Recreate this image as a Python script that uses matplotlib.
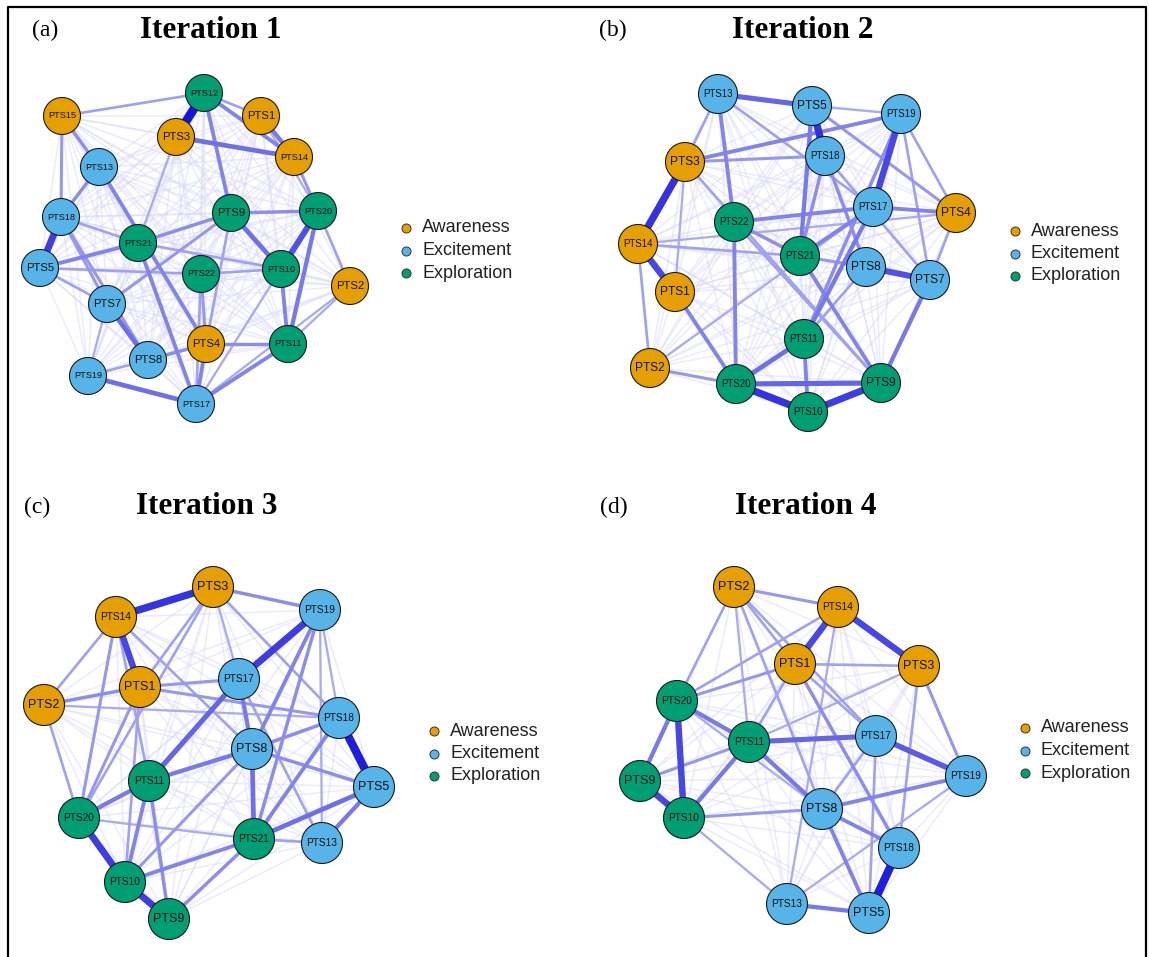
import itertools
import matplotlib
matplotlib.use("Agg")
import matplotlib.pyplot as plt
from matplotlib.patches import Circle
from matplotlib.lines import Line2D

W, H = 1149, 957

# node groups
awareness = ["PTS1", "PTS2", "PTS3", "PTS4", "PTS14", "PTS15"]
excitement = ["PTS5", "PTS7", "PTS8", "PTS13", "PTS17", "PTS18", "PTS19"]
exploration = ["PTS9", "PTS10", "PTS11", "PTS12", "PTS20", "PTS21", "PTS22"]
group_names = ["Awareness", "Excitement", "Exploration"]
group_colors = ["#E69F00", "#56B4E9", "#009E73"]

# layouts (panel-local coordinates, y downwards)
iter1_nodes = ["PTS12", "PTS15", "PTS1", "PTS3", "PTS14", "PTS13", "PTS18", "PTS9", "PTS20", "PTS21",
               "PTS22", "PTS10", "PTS5", "PTS2", "PTS7", "PTS4", "PTS11", "PTS8", "PTS19", "PTS17"]
iter1_x = [204, 62, 261, 176, 294, 99, 61, 231, 318, 138, 201, 281, 40, 350, 107, 206, 288, 148, 88, 196]
iter1_y = [93, 116, 116, 137, 157, 167, 217, 213, 211, 243, 274, 269, 268, 286, 304, 344, 344, 360, 376, 404]

iter2_nodes = ["PTS13", "PTS5", "PTS19", "PTS18", "PTS3", "PTS17", "PTS4", "PTS22", "PTS14", "PTS21",
               "PTS8", "PTS7", "PTS1", "PTS11", "PTS2", "PTS20", "PTS9", "PTS10"]
iter2_x = [158, 252, 341, 265, 125, 313, 396, 174, 78, 240, 306, 370, 115, 244, 90, 176, 321, 248]
iter2_y = [94, 106, 114, 156, 162, 207, 213, 222, 244, 256, 267, 280, 292, 339, 368, 384, 383, 412]

iter3_nodes = ["PTS3", "PTS14", "PTS19", "PTS1", "PTS17", "PTS2", "PTS18", "PTS8", "PTS11", "PTS5",
               "PTS20", "PTS21", "PTS13", "PTS10", "PTS9"]
iter3_x = [213, 116, 320, 140, 239, 44, 339, 252, 149, 374, 79, 254, 322, 125, 169]
iter3_y = [117, 147, 140, 217, 209, 235, 248, 279, 311, 317, 348, 369, 373, 412, 449]

iter4_nodes = ["PTS2", "PTS14", "PTS1", "PTS3", "PTS20", "PTS11", "PTS17", "PTS19", "PTS9", "PTS8",
               "PTS10", "PTS18", "PTS13", "PTS5"]
iter4_x = [174, 278, 235, 359, 117, 189, 316, 406, 80, 262, 124, 339, 227, 309]
iter4_y = [117, 137, 194, 196, 231, 272, 266, 306, 311, 339, 348, 378, 434, 443]

# edge weights (pairs not listed get a faint background weight)
iter1_edges = [
    ("PTS12", "PTS3", 1.0), ("PTS18", "PTS5", 0.8), ("PTS20", "PTS10", 0.7),
    ("PTS3", "PTS14", 0.55), ("PTS1", "PTS14", 0.5), ("PTS12", "PTS14", 0.45), ("PTS12", "PTS9", 0.45),
    ("PTS9", "PTS10", 0.55), ("PTS9", "PTS20", 0.4), ("PTS20", "PTS11", 0.5), ("PTS10", "PTS11", 0.45),
    ("PTS15", "PTS18", 0.35), ("PTS15", "PTS13", 0.4), ("PTS13", "PTS4", 0.45), ("PTS5", "PTS21", 0.45),
    ("PTS21", "PTS9", 0.4), ("PTS21", "PTS17", 0.45), ("PTS7", "PTS8", 0.55), ("PTS19", "PTS17", 0.55),
    ("PTS17", "PTS11", 0.45), ("PTS4", "PTS17", 0.45), ("PTS4", "PTS11", 0.4), ("PTS8", "PTS4", 0.4),
    ("PTS22", "PTS4", 0.35), ("PTS2", "PTS20", 0.3), ("PTS18", "PTS7", 0.35), ("PTS18", "PTS21", 0.3),
    ("PTS13", "PTS18", 0.4), ("PTS12", "PTS15", 0.3), ("PTS9", "PTS7", 0.35), ("PTS21", "PTS10", 0.3),
    ("PTS5", "PTS7", 0.3), ("PTS19", "PTS8", 0.3), ("PTS18", "PTS8", 0.35), ("PTS7", "PTS19", 0.25),
    ("PTS3", "PTS21", 0.25), ("PTS14", "PTS20", 0.35), ("PTS1", "PTS20", 0.25), ("PTS10", "PTS17", 0.25),
    ("PTS22", "PTS17", 0.3), ("PTS9", "PTS4", 0.3), ("PTS2", "PTS11", 0.25), ("PTS2", "PTS17", 0.25),
    ("PTS22", "PTS10", 0.3), ("PTS12", "PTS1", 0.3), ("PTS5", "PTS22", 0.3),
]
iter2_edges = [
    ("PTS3", "PTS14", 0.85), ("PTS14", "PTS1", 0.75), ("PTS5", "PTS18", 0.85), ("PTS19", "PTS17", 0.75),
    ("PTS20", "PTS10", 0.85), ("PTS10", "PTS9", 0.8), ("PTS8", "PTS7", 0.7), ("PTS13", "PTS5", 0.6),
    ("PTS20", "PTS9", 0.6), ("PTS20", "PTS11", 0.55), ("PTS11", "PTS10", 0.45), ("PTS5", "PTS21", 0.5),
    ("PTS18", "PTS21", 0.4), ("PTS17", "PTS4", 0.45), ("PTS17", "PTS11", 0.5), ("PTS17", "PTS21", 0.45),
    ("PTS22", "PTS17", 0.45), ("PTS3", "PTS19", 0.45), ("PTS13", "PTS22", 0.45), ("PTS22", "PTS21", 0.4),
    ("PTS22", "PTS20", 0.45), ("PTS7", "PTS9", 0.5), ("PTS21", "PTS9", 0.45), ("PTS1", "PTS20", 0.45),
    ("PTS2", "PTS20", 0.35), ("PTS2", "PTS14", 0.3), ("PTS18", "PTS8", 0.4), ("PTS18", "PTS7", 0.3),
    ("PTS19", "PTS4", 0.3), ("PTS19", "PTS7", 0.3), ("PTS4", "PTS7", 0.3), ("PTS5", "PTS4", 0.35),
    ("PTS21", "PTS8", 0.35), ("PTS11", "PTS8", 0.3), ("PTS3", "PTS1", 0.25), ("PTS14", "PTS21", 0.3),
    ("PTS13", "PTS3", 0.3), ("PTS5", "PTS19", 0.25), ("PTS3", "PTS18", 0.35), ("PTS19", "PTS11", 0.4),
    ("PTS13", "PTS17", 0.3), ("PTS14", "PTS4", 0.25), ("PTS22", "PTS9", 0.3), ("PTS3", "PTS9", 0.3),
    ("PTS2", "PTS17", 0.25),
]
iter3_edges = [
    ("PTS3", "PTS14", 0.85), ("PTS14", "PTS1", 0.75), ("PTS19", "PTS17", 0.8), ("PTS18", "PTS5", 0.95),
    ("PTS20", "PTS10", 0.8), ("PTS10", "PTS9", 0.8), ("PTS17", "PTS11", 0.6), ("PTS17", "PTS8", 0.5),
    ("PTS8", "PTS21", 0.55), ("PTS11", "PTS8", 0.5), ("PTS20", "PTS11", 0.5), ("PTS11", "PTS10", 0.45),
    ("PTS21", "PTS5", 0.55), ("PTS5", "PTS13", 0.5), ("PTS21", "PTS10", 0.45), ("PTS21", "PTS9", 0.4),
    ("PTS3", "PTS19", 0.4), ("PTS19", "PTS8", 0.45), ("PTS18", "PTS8", 0.4), ("PTS18", "PTS21", 0.45),
    ("PTS8", "PTS5", 0.4), ("PTS2", "PTS1", 0.4), ("PTS2", "PTS14", 0.3), ("PTS2", "PTS20", 0.3),
    ("PTS1", "PTS20", 0.35), ("PTS1", "PTS18", 0.35), ("PTS14", "PTS20", 0.35), ("PTS3", "PTS1", 0.3),
    ("PTS3", "PTS18", 0.3), ("PTS19", "PTS18", 0.25), ("PTS19", "PTS13", 0.25), ("PTS11", "PTS9", 0.4),
    ("PTS14", "PTS11", 0.3), ("PTS1", "PTS17", 0.35), ("PTS2", "PTS18", 0.25), ("PTS8", "PTS10", 0.35),
    ("PTS21", "PTS13", 0.3), ("PTS20", "PTS21", 0.25), ("PTS3", "PTS17", 0.25), ("PTS1", "PTS10", 0.3),
    ("PTS19", "PTS21", 0.4), ("PTS17", "PTS13", 0.3), ("PTS3", "PTS20", 0.3), ("PTS14", "PTS8", 0.3),
]
iter4_edges = [
    ("PTS18", "PTS5", 0.95), ("PTS14", "PTS3", 0.75), ("PTS14", "PTS1", 0.75), ("PTS20", "PTS10", 0.75),
    ("PTS9", "PTS10", 0.75), ("PTS17", "PTS19", 0.65), ("PTS11", "PTS17", 0.6), ("PTS20", "PTS11", 0.5),
    ("PTS20", "PTS9", 0.5), ("PTS11", "PTS10", 0.5), ("PTS11", "PTS8", 0.5), ("PTS8", "PTS19", 0.45),
    ("PTS8", "PTS18", 0.45), ("PTS8", "PTS5", 0.45), ("PTS13", "PTS5", 0.5), ("PTS2", "PTS14", 0.35),
    ("PTS1", "PTS3", 0.3), ("PTS1", "PTS20", 0.35), ("PTS14", "PTS20", 0.3), ("PTS2", "PTS20", 0.3),
    ("PTS3", "PTS19", 0.35), ("PTS3", "PTS18", 0.3), ("PTS1", "PTS18", 0.4), ("PTS10", "PTS8", 0.35),
    ("PTS9", "PTS11", 0.35), ("PTS17", "PTS8", 0.3), ("PTS17", "PTS5", 0.3), ("PTS2", "PTS1", 0.3),
    ("PTS2", "PTS11", 0.25), ("PTS2", "PTS17", 0.3), ("PTS19", "PTS13", 0.25), ("PTS10", "PTS13", 0.25),
    ("PTS1", "PTS11", 0.3), ("PTS1", "PTS17", 0.3), ("PTS20", "PTS8", 0.25), ("PTS2", "PTS8", 0.3),
    ("PTS14", "PTS13", 0.25), ("PTS3", "PTS11", 0.25),
]
background_weight = 0.1

panels = [
    dict(letter="(a)", title="Iteration 1", origin=(0, 0), size=(560, 470),
         nodes=iter1_nodes, x=iter1_x, y=iter1_y, edges=iter1_edges, r=18.5,
         letter_x=45, title_x=211, head_y=30, leg_x=406, leg_y=228),
    dict(letter="(b)", title="Iteration 2", origin=(560, 0), size=(589, 470),
         nodes=iter2_nodes, x=iter2_x, y=iter2_y, edges=iter2_edges, r=19.5,
         letter_x=53, title_x=243, head_y=30, leg_x=455, leg_y=231),
    dict(letter="(c)", title="Iteration 3", origin=(0, 470), size=(560, 487),
         nodes=iter3_nodes, x=iter3_x, y=iter3_y, edges=iter3_edges, r=20.5,
         letter_x=37, title_x=207, head_y=37, leg_x=434, leg_y=261),
    dict(letter="(d)", title="Iteration 4", origin=(560, 470), size=(589, 487),
         nodes=iter4_nodes, x=iter4_x, y=iter4_y, edges=iter4_edges, r=20.5,
         letter_x=54, title_x=246, head_y=37, leg_x=465, leg_y=258),
]

light = (0.87, 0.87, 0.985)
dark = (0.08, 0.08, 0.86)


def edge_color(w):
    return tuple(l + (d - l) * w for l, d in zip(light, dark))


def group_color(name):
    if name in awareness:
        return group_colors[0]
    if name in excitement:
        return group_colors[1]
    return group_colors[2]


fig = plt.figure(figsize=(W / 100, H / 100), dpi=100)

for p in panels:
    ox, oy = p["origin"]
    pw, ph = p["size"]
    ax = fig.add_axes([ox / W, 1 - (oy + ph) / H, pw / W, ph / H])
    ax.set_xlim(0, pw)
    ax.set_ylim(ph, 0)
    ax.axis("off")

    pos = {n: (x, y) for n, x, y in zip(p["nodes"], p["x"], p["y"])}
    weights = {}
    for a, b in itertools.combinations(p["nodes"], 2):
        weights[frozenset((a, b))] = background_weight
    for a, b, w in p["edges"]:
        weights[frozenset((a, b))] = w

    for pair, w in sorted(weights.items(), key=lambda kv: kv[1]):
        a, b = tuple(pair)
        faint = w <= background_weight
        lw_px = 1.6 if faint else 0.8 + 8.0 * w ** 1.2
        ax.plot([pos[a][0], pos[b][0]], [pos[a][1], pos[b][1]],
                color=(0.84, 0.84, 0.975) if faint else edge_color(w),
                lw=lw_px * 0.72, alpha=0.45 if faint else 1.0,
                solid_capstyle="butt", zorder=1 + w)

    r = p["r"]
    for n in p["nodes"]:
        x, y = pos[n]
        ax.add_patch(Circle((x, y), r, facecolor=group_color(n), edgecolor="#1a1a1a",
                            lw=0.8, zorder=5))
        em = 1.945 + 0.556 * (len(n) - 3)
        fs = (2 * r * 0.76) / em * 0.72
        ax.text(x, y, n, ha="center", va="center", fontsize=fs, color="#111111",
                family="Liberation Sans", zorder=6)

    # headings
    ax.text(p["letter_x"], p["head_y"], p["letter"], ha="center", va="center",
            fontsize=17, family="Liberation Serif")
    ax.text(p["title_x"], p["head_y"], p["title"], ha="center", va="center",
            fontsize=22.5, fontweight="bold", family="Liberation Serif")

    # legend
    for i, (g, c) in enumerate(zip(group_names, group_colors)):
        ly = p["leg_y"] + i * 22.5
        ax.plot([p["leg_x"]], [ly], "o", ms=6.5, mfc=c, mec="#333333", mew=0.7, zorder=7)
        ax.text(p["leg_x"] + 16, ly, g, ha="left", va="center", fontsize=13,
                family="Liberation Sans", color="#222222")

# outer frame
fx = [8 / W, 8 / W, 1146 / W, 1146 / W]
fy = [-0.01, 1 - 7 / H, 1 - 7 / H, -0.01]
fig.add_artist(Line2D(fx, fy, transform=fig.transFigure, color="black", lw=1.6))

fig.savefig("out.png", dpi=100)
